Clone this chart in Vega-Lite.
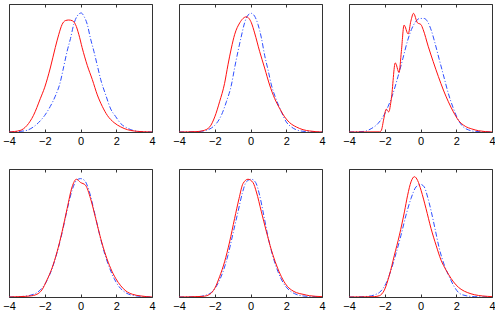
{
"$schema":"https://vega.github.io/schema/vega-lite/v6.json",
"padding":{"left":2,"top":3,"right":0,"bottom":0},
"background":"white",
"data":{"values":[
{"p":1,"s":"r","x":-4,"y":0},{"p":1,"s":"r","x":-3.38,"y":0.012},{"p":1,"s":"r","x":-3.0,"y":0.05},{"p":1,"s":"r","x":-2.63,"y":0.13},{"p":1,"s":"r","x":-2.25,"y":0.26},{"p":1,"s":"r","x":-2.0,"y":0.35},{"p":1,"s":"r","x":-1.69,"y":0.5},{"p":1,"s":"r","x":-1.41,"y":0.66},{"p":1,"s":"r","x":-1.22,"y":0.76},{"p":1,"s":"r","x":-1.03,"y":0.84},{"p":1,"s":"r","x":-0.85,"y":0.87},{"p":1,"s":"r","x":-0.66,"y":0.875},{"p":1,"s":"r","x":-0.47,"y":0.87},{"p":1,"s":"r","x":-0.28,"y":0.84},{"p":1,"s":"r","x":-0.09,"y":0.76},{"p":1,"s":"r","x":0.09,"y":0.66},{"p":1,"s":"r","x":0.38,"y":0.52},{"p":1,"s":"r","x":0.66,"y":0.41},{"p":1,"s":"r","x":0.94,"y":0.29},{"p":1,"s":"r","x":1.22,"y":0.2},{"p":1,"s":"r","x":1.5,"y":0.13},{"p":1,"s":"r","x":1.88,"y":0.073},{"p":1,"s":"r","x":2.25,"y":0.04},{"p":1,"s":"r","x":2.63,"y":0.018},{"p":1,"s":"r","x":3.0,"y":0.008},{"p":1,"s":"r","x":3.5,"y":0.002},{"p":1,"s":"r","x":4,"y":0},
{"p":1,"s":"b","x":-4,"y":0},{"p":1,"s":"b","x":-3.38,"y":0.005},{"p":1,"s":"b","x":-3.0,"y":0.013},{"p":1,"s":"b","x":-2.63,"y":0.04},{"p":1,"s":"b","x":-2.35,"y":0.073},{"p":1,"s":"b","x":-2.0,"y":0.13},{"p":1,"s":"b","x":-1.69,"y":0.2},{"p":1,"s":"b","x":-1.41,"y":0.28},{"p":1,"s":"b","x":-1.13,"y":0.39},{"p":1,"s":"b","x":-0.94,"y":0.51},{"p":1,"s":"b","x":-0.75,"y":0.63},{"p":1,"s":"b","x":-0.56,"y":0.73},{"p":1,"s":"b","x":-0.38,"y":0.84},{"p":1,"s":"b","x":-0.19,"y":0.905},{"p":1,"s":"b","x":0.04,"y":0.93},{"p":1,"s":"b","x":0.19,"y":0.905},{"p":1,"s":"b","x":0.38,"y":0.84},{"p":1,"s":"b","x":0.56,"y":0.73},{"p":1,"s":"b","x":0.75,"y":0.63},{"p":1,"s":"b","x":0.94,"y":0.52},{"p":1,"s":"b","x":1.13,"y":0.41},{"p":1,"s":"b","x":1.41,"y":0.29},{"p":1,"s":"b","x":1.69,"y":0.18},{"p":1,"s":"b","x":1.97,"y":0.12},{"p":1,"s":"b","x":2.25,"y":0.066},{"p":1,"s":"b","x":2.63,"y":0.03},{"p":1,"s":"b","x":3.0,"y":0.01},{"p":1,"s":"b","x":3.38,"y":0.003},{"p":1,"s":"b","x":4,"y":0},
{"p":2,"s":"r","x":-4,"y":0},{"p":2,"s":"r","x":-3.03,"y":0.003},{"p":2,"s":"r","x":-2.66,"y":0.01},{"p":2,"s":"r","x":-2.28,"y":0.04},{"p":2,"s":"r","x":-2.0,"y":0.118},{"p":2,"s":"r","x":-1.73,"y":0.236},{"p":2,"s":"r","x":-1.45,"y":0.38},{"p":2,"s":"r","x":-1.26,"y":0.525},{"p":2,"s":"r","x":-1.07,"y":0.656},{"p":2,"s":"r","x":-0.89,"y":0.76},{"p":2,"s":"r","x":-0.6,"y":0.853},{"p":2,"s":"r","x":-0.23,"y":0.9},{"p":2,"s":"r","x":0.05,"y":0.853},{"p":2,"s":"r","x":0.23,"y":0.774},{"p":2,"s":"r","x":0.51,"y":0.63},{"p":2,"s":"r","x":0.79,"y":0.5},{"p":2,"s":"r","x":1.07,"y":0.367},{"p":2,"s":"r","x":1.35,"y":0.262},{"p":2,"s":"r","x":1.63,"y":0.184},{"p":2,"s":"r","x":1.91,"y":0.118},{"p":2,"s":"r","x":2.19,"y":0.073},{"p":2,"s":"r","x":2.57,"y":0.039},{"p":2,"s":"r","x":2.94,"y":0.018},{"p":2,"s":"r","x":3.31,"y":0.008},{"p":2,"s":"r","x":4,"y":0},
{"p":2,"s":"b","x":-4,"y":0},{"p":2,"s":"b","x":-2.94,"y":0.003},{"p":2,"s":"b","x":-2.57,"y":0.01},{"p":2,"s":"b","x":-2.19,"y":0.031},{"p":2,"s":"b","x":-1.91,"y":0.066},{"p":2,"s":"b","x":-1.63,"y":0.131},{"p":2,"s":"b","x":-1.35,"y":0.236},{"p":2,"s":"b","x":-1.07,"y":0.367},{"p":2,"s":"b","x":-0.89,"y":0.5},{"p":2,"s":"b","x":-0.7,"y":0.63},{"p":2,"s":"b","x":-0.51,"y":0.75},{"p":2,"s":"b","x":-0.33,"y":0.853},{"p":2,"s":"b","x":-0.14,"y":0.913},{"p":2,"s":"b","x":0.05,"y":0.927},{"p":2,"s":"b","x":0.23,"y":0.905},{"p":2,"s":"b","x":0.42,"y":0.84},{"p":2,"s":"b","x":0.61,"y":0.735},{"p":2,"s":"b","x":0.79,"y":0.6},{"p":2,"s":"b","x":0.98,"y":0.486},{"p":2,"s":"b","x":1.17,"y":0.367},{"p":2,"s":"b","x":1.45,"y":0.25},{"p":2,"s":"b","x":1.73,"y":0.157},{"p":2,"s":"b","x":2.0,"y":0.079},{"p":2,"s":"b","x":2.29,"y":0.039},{"p":2,"s":"b","x":2.66,"y":0.013},{"p":2,"s":"b","x":3.13,"y":0.003},{"p":2,"s":"b","x":4,"y":0},
{"p":3,"s":"r","x":-4,"y":0},{"p":3,"s":"r","x":-2.3,"y":0.001},{"p":3,"s":"r","x":-2.2,"y":0.01},{"p":3,"s":"r","x":-2.05,"y":0.105},{"p":3,"s":"r","x":-1.92,"y":0.178},{"p":3,"s":"r","x":-1.78,"y":0.157},{"p":3,"s":"r","x":-1.63,"y":0.26},{"p":3,"s":"r","x":-1.41,"y":0.54},{"p":3,"s":"r","x":-1.2,"y":0.465},{"p":3,"s":"r","x":-1.07,"y":0.63},{"p":3,"s":"r","x":-0.92,"y":0.835},{"p":3,"s":"r","x":-0.69,"y":0.766},{"p":3,"s":"r","x":-0.54,"y":0.866},{"p":3,"s":"r","x":-0.39,"y":0.927},{"p":3,"s":"r","x":-0.17,"y":0.853},{"p":3,"s":"r","x":0.02,"y":0.84},{"p":3,"s":"r","x":0.15,"y":0.8},{"p":3,"s":"r","x":0.43,"y":0.67},{"p":3,"s":"r","x":0.71,"y":0.55},{"p":3,"s":"r","x":1.0,"y":0.433},{"p":3,"s":"r","x":1.28,"y":0.328},{"p":3,"s":"r","x":1.56,"y":0.236},{"p":3,"s":"r","x":1.84,"y":0.157},{"p":3,"s":"r","x":2.12,"y":0.092},{"p":3,"s":"r","x":2.5,"y":0.045},{"p":3,"s":"r","x":2.87,"y":0.024},{"p":3,"s":"r","x":3.25,"y":0.01},{"p":3,"s":"r","x":4,"y":0},
{"p":3,"s":"b","x":-4,"y":0},{"p":3,"s":"b","x":-3.14,"y":0.005},{"p":3,"s":"b","x":-2.76,"y":0.026},{"p":3,"s":"b","x":-2.38,"y":0.066},{"p":3,"s":"b","x":-2.1,"y":0.118},{"p":3,"s":"b","x":-1.82,"y":0.197},{"p":3,"s":"b","x":-1.54,"y":0.3},{"p":3,"s":"b","x":-1.26,"y":0.433},{"p":3,"s":"b","x":-0.98,"y":0.577},{"p":3,"s":"b","x":-0.73,"y":0.71},{"p":3,"s":"b","x":-0.51,"y":0.8},{"p":3,"s":"b","x":-0.28,"y":0.86},{"p":3,"s":"b","x":-0.04,"y":0.887},{"p":3,"s":"b","x":0.21,"y":0.887},{"p":3,"s":"b","x":0.43,"y":0.853},{"p":3,"s":"b","x":0.62,"y":0.787},{"p":3,"s":"b","x":0.81,"y":0.695},{"p":3,"s":"b","x":1.03,"y":0.577},{"p":3,"s":"b","x":1.28,"y":0.446},{"p":3,"s":"b","x":1.56,"y":0.3},{"p":3,"s":"b","x":1.84,"y":0.184},{"p":3,"s":"b","x":2.12,"y":0.092},{"p":3,"s":"b","x":2.4,"y":0.039},{"p":3,"s":"b","x":2.69,"y":0.016},{"p":3,"s":"b","x":3.06,"y":0.005},{"p":3,"s":"b","x":4,"y":0},
{"p":4,"s":"r","x":-4,"y":0},{"p":4,"s":"r","x":-3.38,"y":0.003},{"p":4,"s":"r","x":-2.82,"y":0.008},{"p":4,"s":"r","x":-2.44,"y":0.021},{"p":4,"s":"r","x":-2.16,"y":0.055},{"p":4,"s":"r","x":-1.88,"y":0.132},{"p":4,"s":"r","x":-1.6,"y":0.223},{"p":4,"s":"r","x":-1.31,"y":0.353},{"p":4,"s":"r","x":-1.03,"y":0.51},{"p":4,"s":"r","x":-0.75,"y":0.69},{"p":4,"s":"r","x":-0.47,"y":0.86},{"p":4,"s":"r","x":-0.23,"y":0.92},{"p":4,"s":"r","x":0.0,"y":0.895},{"p":4,"s":"r","x":0.28,"y":0.873},{"p":4,"s":"r","x":0.56,"y":0.77},{"p":4,"s":"r","x":0.85,"y":0.613},{"p":4,"s":"r","x":1.13,"y":0.457},{"p":4,"s":"r","x":1.41,"y":0.327},{"p":4,"s":"r","x":1.69,"y":0.223},{"p":4,"s":"r","x":1.97,"y":0.145},{"p":4,"s":"r","x":2.25,"y":0.088},{"p":4,"s":"r","x":2.54,"y":0.047},{"p":4,"s":"r","x":2.91,"y":0.021},{"p":4,"s":"r","x":3.38,"y":0.008},{"p":4,"s":"r","x":4,"y":0},
{"p":4,"s":"b","x":-4,"y":0},{"p":4,"s":"b","x":-3.38,"y":0.003},{"p":4,"s":"b","x":-2.82,"y":0.013},{"p":4,"s":"b","x":-2.44,"y":0.034},{"p":4,"s":"b","x":-2.16,"y":0.068},{"p":4,"s":"b","x":-1.88,"y":0.127},{"p":4,"s":"b","x":-1.6,"y":0.218},{"p":4,"s":"b","x":-1.31,"y":0.348},{"p":4,"s":"b","x":-1.03,"y":0.5},{"p":4,"s":"b","x":-0.75,"y":0.68},{"p":4,"s":"b","x":-0.47,"y":0.834},{"p":4,"s":"b","x":-0.23,"y":0.91},{"p":4,"s":"b","x":0.0,"y":0.925},{"p":4,"s":"b","x":0.23,"y":0.91},{"p":4,"s":"b","x":0.47,"y":0.834},{"p":4,"s":"b","x":0.75,"y":0.68},{"p":4,"s":"b","x":1.03,"y":0.51},{"p":4,"s":"b","x":1.31,"y":0.358},{"p":4,"s":"b","x":1.6,"y":0.236},{"p":4,"s":"b","x":1.88,"y":0.145},{"p":4,"s":"b","x":2.16,"y":0.08},{"p":4,"s":"b","x":2.44,"y":0.042},{"p":4,"s":"b","x":2.82,"y":0.016},{"p":4,"s":"b","x":3.38,"y":0.005},{"p":4,"s":"b","x":4,"y":0},
{"p":5,"s":"r","x":-4,"y":0},{"p":5,"s":"r","x":-2.66,"y":0.005},{"p":5,"s":"r","x":-2.28,"y":0.021},{"p":5,"s":"r","x":-2.0,"y":0.068},{"p":5,"s":"r","x":-1.73,"y":0.158},{"p":5,"s":"r","x":-1.45,"y":0.275},{"p":5,"s":"r","x":-1.17,"y":0.43},{"p":5,"s":"r","x":-0.89,"y":0.613},{"p":5,"s":"r","x":-0.64,"y":0.77},{"p":5,"s":"r","x":-0.42,"y":0.886},{"p":5,"s":"r","x":-0.14,"y":0.92},{"p":5,"s":"r","x":0.14,"y":0.894},{"p":5,"s":"r","x":0.33,"y":0.82},{"p":5,"s":"r","x":0.61,"y":0.665},{"p":5,"s":"r","x":0.89,"y":0.51},{"p":5,"s":"r","x":1.17,"y":0.366},{"p":5,"s":"r","x":1.45,"y":0.25},{"p":5,"s":"r","x":1.73,"y":0.158},{"p":5,"s":"r","x":2.0,"y":0.094},{"p":5,"s":"r","x":2.29,"y":0.055},{"p":5,"s":"r","x":2.57,"y":0.034},{"p":5,"s":"r","x":2.94,"y":0.021},{"p":5,"s":"r","x":3.31,"y":0.01},{"p":5,"s":"r","x":4,"y":0.003},
{"p":5,"s":"b","x":-4,"y":0},{"p":5,"s":"b","x":-2.94,"y":0.003},{"p":5,"s":"b","x":-2.47,"y":0.016},{"p":5,"s":"b","x":-2.1,"y":0.047},{"p":5,"s":"b","x":-1.82,"y":0.106},{"p":5,"s":"b","x":-1.54,"y":0.197},{"p":5,"s":"b","x":-1.26,"y":0.327},{"p":5,"s":"b","x":-0.98,"y":0.496},{"p":5,"s":"b","x":-0.7,"y":0.665},{"p":5,"s":"b","x":-0.46,"y":0.81},{"p":5,"s":"b","x":-0.23,"y":0.9},{"p":5,"s":"b","x":0.05,"y":0.92},{"p":5,"s":"b","x":0.29,"y":0.894},{"p":5,"s":"b","x":0.51,"y":0.795},{"p":5,"s":"b","x":0.74,"y":0.64},{"p":5,"s":"b","x":0.98,"y":0.47},{"p":5,"s":"b","x":1.26,"y":0.314},{"p":5,"s":"b","x":1.54,"y":0.197},{"p":5,"s":"b","x":1.82,"y":0.114},{"p":5,"s":"b","x":2.1,"y":0.062},{"p":5,"s":"b","x":2.47,"y":0.026},{"p":5,"s":"b","x":2.94,"y":0.008},{"p":5,"s":"b","x":3.5,"y":0.003},{"p":5,"s":"b","x":4,"y":0},
{"p":6,"s":"r","x":-4,"y":0},{"p":6,"s":"r","x":-2.58,"y":0.003},{"p":6,"s":"r","x":-2.3,"y":0.01},{"p":6,"s":"r","x":-2.02,"y":0.055},{"p":6,"s":"r","x":-1.74,"y":0.171},{"p":6,"s":"r","x":-1.46,"y":0.327},{"p":6,"s":"r","x":-1.18,"y":0.483},{"p":6,"s":"r","x":-0.9,"y":0.665},{"p":6,"s":"r","x":-0.72,"y":0.795},{"p":6,"s":"r","x":-0.53,"y":0.9},{"p":6,"s":"r","x":-0.34,"y":0.94},{"p":6,"s":"r","x":-0.16,"y":0.91},{"p":6,"s":"r","x":0.03,"y":0.834},{"p":6,"s":"r","x":0.31,"y":0.69},{"p":6,"s":"r","x":0.59,"y":0.535},{"p":6,"s":"r","x":0.87,"y":0.405},{"p":6,"s":"r","x":1.15,"y":0.288},{"p":6,"s":"r","x":1.43,"y":0.21},{"p":6,"s":"r","x":1.71,"y":0.145},{"p":6,"s":"r","x":1.99,"y":0.094},{"p":6,"s":"r","x":2.27,"y":0.06},{"p":6,"s":"r","x":2.64,"y":0.034},{"p":6,"s":"r","x":3.01,"y":0.018},{"p":6,"s":"r","x":3.48,"y":0.008},{"p":6,"s":"r","x":4,"y":0.003},
{"p":6,"s":"b","x":-4,"y":0},{"p":6,"s":"b","x":-3.5,"y":0.001},{"p":6,"s":"b","x":-2.96,"y":0.005},{"p":6,"s":"b","x":-2.58,"y":0.016},{"p":6,"s":"b","x":-2.21,"y":0.047},{"p":6,"s":"b","x":-1.93,"y":0.106},{"p":6,"s":"b","x":-1.65,"y":0.21},{"p":6,"s":"b","x":-1.37,"y":0.34},{"p":6,"s":"b","x":-1.09,"y":0.483},{"p":6,"s":"b","x":-0.81,"y":0.64},{"p":6,"s":"b","x":-0.53,"y":0.77},{"p":6,"s":"b","x":-0.25,"y":0.86},{"p":6,"s":"b","x":0.0,"y":0.88},{"p":6,"s":"b","x":0.21,"y":0.86},{"p":6,"s":"b","x":0.4,"y":0.78},{"p":6,"s":"b","x":0.59,"y":0.675},{"p":6,"s":"b","x":0.81,"y":0.535},{"p":6,"s":"b","x":1.05,"y":0.38},{"p":6,"s":"b","x":1.33,"y":0.25},{"p":6,"s":"b","x":1.61,"y":0.158},{"p":6,"s":"b","x":1.89,"y":0.08},{"p":6,"s":"b","x":2.17,"y":0.03},{"p":6,"s":"b","x":2.55,"y":0.01},{"p":6,"s":"b","x":3.01,"y":0.003},{"p":6,"s":"b","x":4,"y":0}
]},
"columns":3,
"spacing":{"row":37,"column":27},
"bounds":"flush",
"concat":[
{"width":143,"height":128,"transform":[{"filter":"datum.p === 1"}],"resolve":{"axis":{"x":"independent"}},"layer":[
{"transform":[{"filter":"datum.s === 'b'"}],"mark":{"type":"line","color":"#2f4fff","strokeWidth":1,"strokeDash":[5,2,1,2],"interpolate":"monotone","clip":true},"encoding":{"x":{"field":"x","type":"quantitative","scale":{"domain":[-4,4],"nice":false},"axis":{"orient":"top","values":[-4,-2,0,2,4],"labels":false,"domain":false,"grid":false,"tickSize":-3,"tickColor":"#333","title":null}},"y":{"field":"y","type":"quantitative","scale":{"domain":[0,1]},"axis":null}}},
{"transform":[{"filter":"datum.s === 'r'"}],"mark":{"type":"line","color":"#ff1010","strokeWidth":1,"interpolate":"monotone","clip":true},"encoding":{"x":{"field":"x","type":"quantitative","scale":{"domain":[-4,4],"nice":false},"axis":{"orient":"bottom","values":[-4,-2,0,2,4],"domain":false,"grid":false,"tickSize":-3,"tickColor":"#333","title":null,"labelFont":"Liberation Sans","labelFontSize":11,"labelColor":"#000","labelPadding":6,"labelFlush":false,"labelOverlap":false,"labelBound":false}},"y":{"field":"y","type":"quantitative","scale":{"domain":[0,1]},"axis":null}}}]},
{"width":143,"height":128,"transform":[{"filter":"datum.p === 2"}],"resolve":{"axis":{"x":"independent"}},"layer":[
{"transform":[{"filter":"datum.s === 'b'"}],"mark":{"type":"line","color":"#2f4fff","strokeWidth":1,"strokeDash":[5,2,1,2],"interpolate":"monotone","clip":true},"encoding":{"x":{"field":"x","type":"quantitative","scale":{"domain":[-4,4],"nice":false},"axis":{"orient":"top","values":[-4,-2,0,2,4],"labels":false,"domain":false,"grid":false,"tickSize":-3,"tickColor":"#333","title":null}},"y":{"field":"y","type":"quantitative","scale":{"domain":[0,1]},"axis":null}}},
{"transform":[{"filter":"datum.s === 'r'"}],"mark":{"type":"line","color":"#ff1010","strokeWidth":1,"interpolate":"monotone","clip":true},"encoding":{"x":{"field":"x","type":"quantitative","scale":{"domain":[-4,4],"nice":false},"axis":{"orient":"bottom","values":[-4,-2,0,2,4],"domain":false,"grid":false,"tickSize":-3,"tickColor":"#333","title":null,"labelFont":"Liberation Sans","labelFontSize":11,"labelColor":"#000","labelPadding":6,"labelFlush":false,"labelOverlap":false,"labelBound":false}},"y":{"field":"y","type":"quantitative","scale":{"domain":[0,1]},"axis":null}}}]},
{"width":143,"height":128,"transform":[{"filter":"datum.p === 3"}],"resolve":{"axis":{"x":"independent"}},"layer":[
{"transform":[{"filter":"datum.s === 'b'"}],"mark":{"type":"line","color":"#2f4fff","strokeWidth":1,"strokeDash":[5,2,1,2],"interpolate":"monotone","clip":true},"encoding":{"x":{"field":"x","type":"quantitative","scale":{"domain":[-4,4],"nice":false},"axis":{"orient":"top","values":[-4,-2,0,2,4],"labels":false,"domain":false,"grid":false,"tickSize":-3,"tickColor":"#333","title":null}},"y":{"field":"y","type":"quantitative","scale":{"domain":[0,1]},"axis":null}}},
{"transform":[{"filter":"datum.s === 'r'"}],"mark":{"type":"line","color":"#ff1010","strokeWidth":1,"interpolate":"monotone","clip":true},"encoding":{"x":{"field":"x","type":"quantitative","scale":{"domain":[-4,4],"nice":false},"axis":{"orient":"bottom","values":[-4,-2,0,2,4],"domain":false,"grid":false,"tickSize":-3,"tickColor":"#333","title":null,"labelFont":"Liberation Sans","labelFontSize":11,"labelColor":"#000","labelPadding":6,"labelFlush":false,"labelOverlap":false,"labelBound":false}},"y":{"field":"y","type":"quantitative","scale":{"domain":[0,1]},"axis":null}}}]},
{"width":143,"height":128,"transform":[{"filter":"datum.p === 4"}],"resolve":{"axis":{"x":"independent"}},"layer":[
{"transform":[{"filter":"datum.s === 'b'"}],"mark":{"type":"line","color":"#2f4fff","strokeWidth":1,"strokeDash":[5,2,1,2],"interpolate":"monotone","clip":true},"encoding":{"x":{"field":"x","type":"quantitative","scale":{"domain":[-4,4],"nice":false},"axis":{"orient":"top","values":[-4,-2,0,2,4],"labels":false,"domain":false,"grid":false,"tickSize":-3,"tickColor":"#333","title":null}},"y":{"field":"y","type":"quantitative","scale":{"domain":[0,1]},"axis":null}}},
{"transform":[{"filter":"datum.s === 'r'"}],"mark":{"type":"line","color":"#ff1010","strokeWidth":1,"interpolate":"monotone","clip":true},"encoding":{"x":{"field":"x","type":"quantitative","scale":{"domain":[-4,4],"nice":false},"axis":{"orient":"bottom","values":[-4,-2,0,2,4],"domain":false,"grid":false,"tickSize":-3,"tickColor":"#333","title":null,"labelFont":"Liberation Sans","labelFontSize":11,"labelColor":"#000","labelPadding":6,"labelFlush":false,"labelOverlap":false,"labelBound":false}},"y":{"field":"y","type":"quantitative","scale":{"domain":[0,1]},"axis":null}}}]},
{"width":143,"height":128,"transform":[{"filter":"datum.p === 5"}],"resolve":{"axis":{"x":"independent"}},"layer":[
{"transform":[{"filter":"datum.s === 'b'"}],"mark":{"type":"line","color":"#2f4fff","strokeWidth":1,"strokeDash":[5,2,1,2],"interpolate":"monotone","clip":true},"encoding":{"x":{"field":"x","type":"quantitative","scale":{"domain":[-4,4],"nice":false},"axis":{"orient":"top","values":[-4,-2,0,2,4],"labels":false,"domain":false,"grid":false,"tickSize":-3,"tickColor":"#333","title":null}},"y":{"field":"y","type":"quantitative","scale":{"domain":[0,1]},"axis":null}}},
{"transform":[{"filter":"datum.s === 'r'"}],"mark":{"type":"line","color":"#ff1010","strokeWidth":1,"interpolate":"monotone","clip":true},"encoding":{"x":{"field":"x","type":"quantitative","scale":{"domain":[-4,4],"nice":false},"axis":{"orient":"bottom","values":[-4,-2,0,2,4],"domain":false,"grid":false,"tickSize":-3,"tickColor":"#333","title":null,"labelFont":"Liberation Sans","labelFontSize":11,"labelColor":"#000","labelPadding":6,"labelFlush":false,"labelOverlap":false,"labelBound":false}},"y":{"field":"y","type":"quantitative","scale":{"domain":[0,1]},"axis":null}}}]},
{"width":143,"height":128,"transform":[{"filter":"datum.p === 6"}],"resolve":{"axis":{"x":"independent"}},"layer":[
{"transform":[{"filter":"datum.s === 'b'"}],"mark":{"type":"line","color":"#2f4fff","strokeWidth":1,"strokeDash":[5,2,1,2],"interpolate":"monotone","clip":true},"encoding":{"x":{"field":"x","type":"quantitative","scale":{"domain":[-4,4],"nice":false},"axis":{"orient":"top","values":[-4,-2,0,2,4],"labels":false,"domain":false,"grid":false,"tickSize":-3,"tickColor":"#333","title":null}},"y":{"field":"y","type":"quantitative","scale":{"domain":[0,1]},"axis":null}}},
{"transform":[{"filter":"datum.s === 'r'"}],"mark":{"type":"line","color":"#ff1010","strokeWidth":1,"interpolate":"monotone","clip":true},"encoding":{"x":{"field":"x","type":"quantitative","scale":{"domain":[-4,4],"nice":false},"axis":{"orient":"bottom","values":[-4,-2,0,2,4],"domain":false,"grid":false,"tickSize":-3,"tickColor":"#333","title":null,"labelFont":"Liberation Sans","labelFontSize":11,"labelColor":"#000","labelPadding":6,"labelFlush":false,"labelOverlap":false,"labelBound":false}},"y":{"field":"y","type":"quantitative","scale":{"domain":[0,1]},"axis":null}}}]}
],
"config":{"view":{"stroke":"#333","strokeWidth":1}}
}
